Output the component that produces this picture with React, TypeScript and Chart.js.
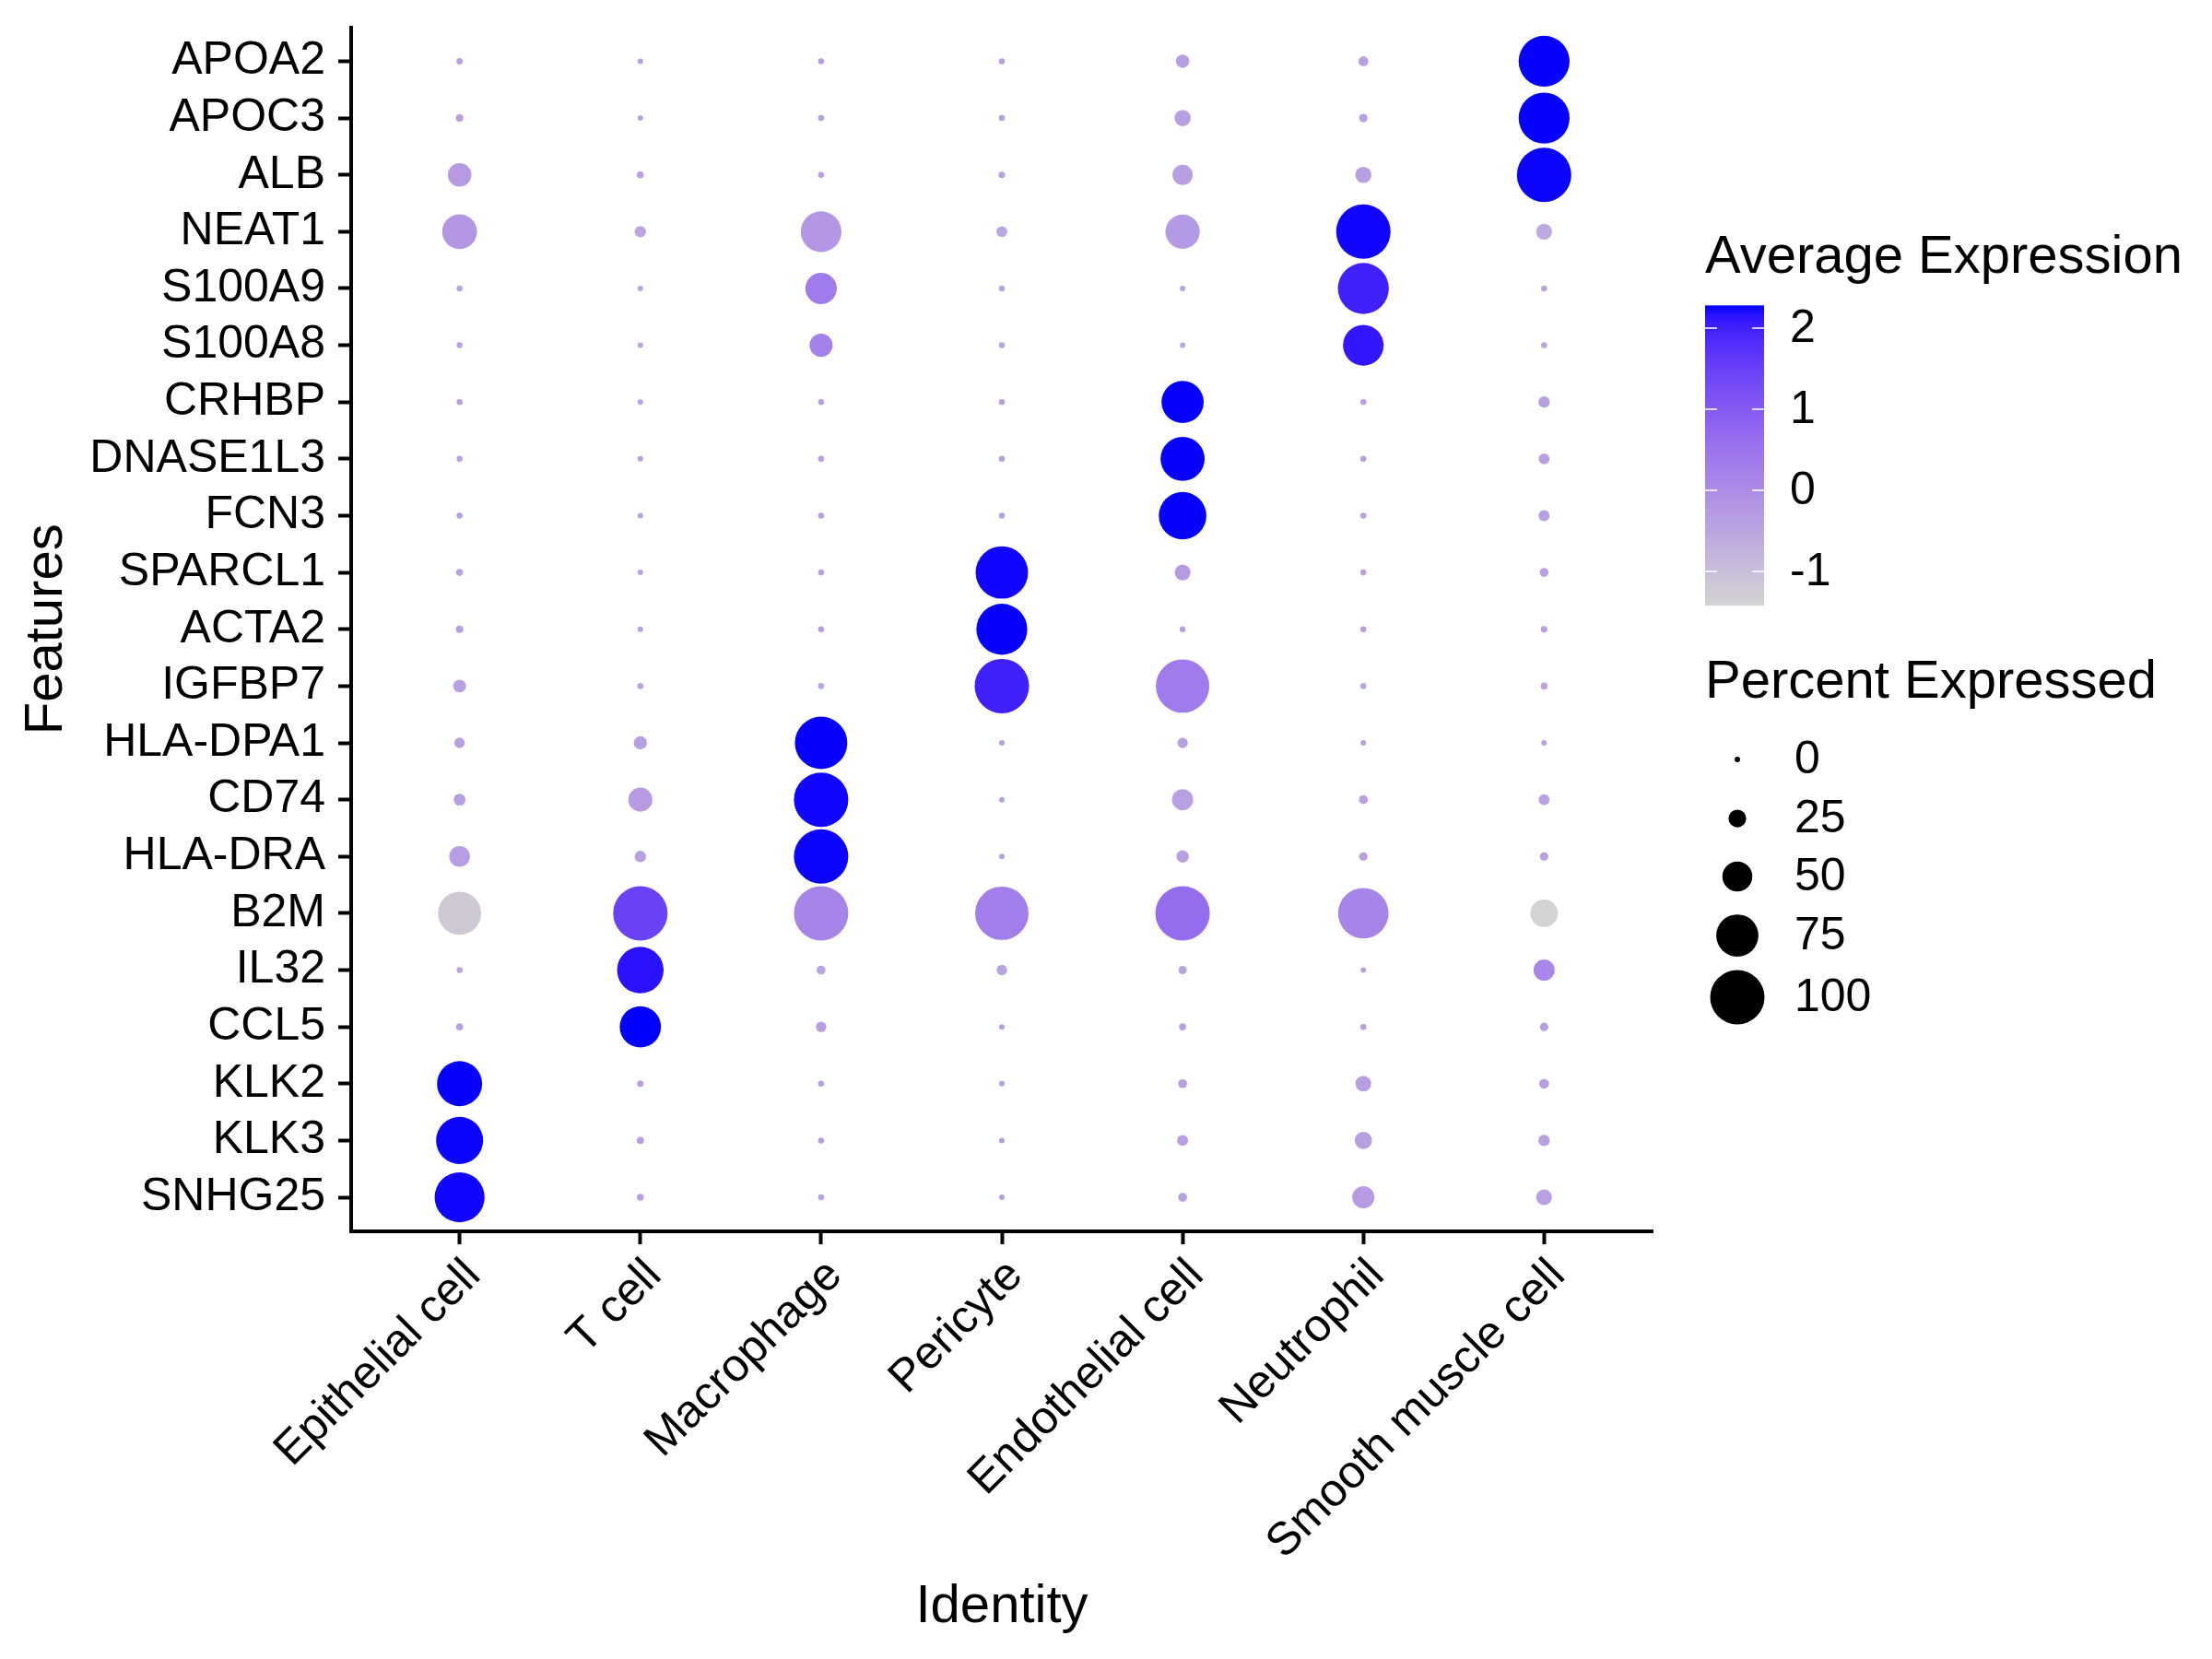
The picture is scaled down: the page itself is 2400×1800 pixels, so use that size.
import React, { useEffect, useRef } from "react";
import { Chart, registerables } from "chart.js";

Chart.register(...registerables);

// ---------- data ----------
const identities = [
  "Epithelial cell",
  "T cell",
  "Macrophage",
  "Pericyte",
  "Endothelial cell",
  "Neutrophil",
  "Smooth muscle cell",
];

const features = [
  "APOA2", "APOC3", "ALB", "NEAT1", "S100A9", "S100A8", "CRHBP", "DNASE1L3",
  "FCN3", "SPARCL1", "ACTA2", "IGFBP7", "HLA-DPA1", "CD74", "HLA-DRA", "B2M",
  "IL32", "CCL5", "KLK2", "KLK3", "SNHG25",
];

// percent expressed per identity (feature order as above)
const pctEpithelial = [2, 4, 37, 60, 1, 1, 1, 1, 1, 3, 4, 15, 10, 13, 31, 77, 1, 3, 81, 85, 91];
const pctTcell = [0, 0, 3, 12, 0, 0, 0, 0, 0, 0, 0, 1, 16, 38, 12, 100, 84, 73, 2, 3, 3];
const pctMacrophage = [1, 1, 1, 72, 53, 36, 1, 1, 1, 1, 1, 1, 96, 100, 100, 100, 7, 10, 1, 1, 1];
const pctPericyte = [1, 1, 2, 11, 1, 1, 1, 1, 1, 96, 93, 100, 0, 0, 0, 98, 10, 0, 0, 0, 0];
const pctEndothelial = [16, 22, 30, 59, 0, 0, 75, 79, 86, 21, 1, 98, 10, 32, 14, 100, 6, 3, 7, 11, 7];
const pctNeutrophil = [9, 6, 22, 100, 93, 72, 1, 1, 1, 1, 1, 1, 0, 7, 6, 92, 0, 1, 21, 24, 34];
const pctSmoothMuscle = [93, 93, 100, 21, 1, 1, 12, 11, 11, 7, 2, 3, 0, 11, 6, 45, 32, 6, 9, 12, 21];

// scaled average expression per identity
const avgEpithelial = [-0.38, -0.38, -0.3, -0.2, -0.46, -0.46, -0.38, -0.38, -0.38, -0.38, -0.36, -0.42, -0.38, -0.38, -0.33, -1.23, -0.45, -0.38, 2.27, 2.26, 2.25];
const avgTcell = [-0.38, -0.38, -0.4, -0.5, -0.46, -0.46, -0.38, -0.38, -0.38, -0.39, -0.38, -0.47, -0.36, -0.3, -0.38, 1.45, 2.15, 2.28, -0.38, -0.38, -0.39];
const avgMacrophage = [-0.38, -0.38, -0.4, -0.22, 0.35, 0.25, -0.38, -0.38, -0.38, -0.39, -0.38, -0.47, 2.27, 2.25, 2.26, 0.15, -0.45, -0.38, -0.38, -0.38, -0.39];
const avgPericyte = [-0.38, -0.38, -0.4, -0.5, -0.46, -0.46, -0.38, -0.38, -0.38, 2.25, 2.27, 2.0, -0.38, -0.39, -0.39, 0.3, -0.45, -0.38, -0.38, -0.38, -0.39];
const avgEndothelial = [-0.38, -0.38, -0.38, -0.25, -0.46, -0.46, 2.27, 2.27, 2.27, -0.3, -0.38, 0.35, -0.38, -0.39, -0.39, 0.65, -0.45, -0.38, -0.38, -0.38, -0.39];
const avgNeutrophil = [-0.38, -0.38, -0.38, 2.25, 2.0, 2.1, -0.38, -0.38, -0.38, -0.39, -0.38, -0.47, -0.38, -0.39, -0.39, 0.15, -0.45, -0.38, -0.38, -0.38, -0.3];
const avgSmoothMuscle = [2.27, 2.27, 2.26, -0.55, -0.46, -0.46, -0.38, -0.38, -0.38, -0.39, -0.38, -0.47, -0.38, -0.39, -0.39, -1.42, 0.1, -0.38, -0.38, -0.38, -0.39];

const colorTicks = [-1, 0, 1, 2];
const sizeBreaks = [0, 25, 50, 75, 100];

const pctByIdentity = [pctEpithelial, pctTcell, pctMacrophage, pctPericyte, pctEndothelial, pctNeutrophil, pctSmoothMuscle];
const avgByIdentity = [avgEpithelial, avgTcell, avgMacrophage, avgPericyte, avgEndothelial, avgNeutrophil, avgSmoothMuscle];

// ---------- colour (CIELAB interpolation lightgrey -> blue) ----------
type RGB = [number, number, number];
const toLin = (c: number) => {
  const v = c / 255;
  return v <= 0.04045 ? v / 12.92 : Math.pow((v + 0.055) / 1.055, 2.4);
};
const fromLin = (c: number) => {
  const v = c <= 0.0031308 ? 12.92 * c : 1.055 * Math.pow(Math.max(c, 0), 1 / 2.4) - 0.055;
  return Math.round(Math.max(0, Math.min(1, v)) * 255);
};
function rgbToLab([r, g, b]: RGB): RGB {
  const R = toLin(r), G = toLin(g), B = toLin(b);
  const X = (0.4124 * R + 0.3576 * G + 0.1805 * B) / 0.95047;
  const Y = 0.2126 * R + 0.7152 * G + 0.0722 * B;
  const Z = (0.0193 * R + 0.1192 * G + 0.9505 * B) / 1.08883;
  const f = (t: number) => (t > 0.008856 ? Math.cbrt(t) : 7.787 * t + 16 / 116);
  const fx = f(X), fy = f(Y), fz = f(Z);
  return [116 * fy - 16, 500 * (fx - fy), 200 * (fy - fz)];
}
function labToRgb([L, a, b]: RGB): RGB {
  const fy = (L + 16) / 116, fx = fy + a / 500, fz = fy - b / 200;
  const inv = (t: number) => (t * t * t > 0.008856 ? t * t * t : (t - 16 / 116) / 7.787);
  const X = 0.95047 * inv(fx), Y = inv(fy), Z = 1.08883 * inv(fz);
  const R = 3.2406 * X - 1.5372 * Y - 0.4986 * Z;
  const G = -0.9689 * X + 1.8758 * Y + 0.0415 * Z;
  const B = 0.0557 * X - 0.204 * Y + 1.057 * Z;
  return [fromLin(R), fromLin(G), fromLin(B)];
}
const LOW = rgbToLab([211, 211, 211]);
const HIGH = rgbToLab([0, 0, 255]);
const allAvg = avgByIdentity.flat();
const vMin = Math.min(...allAvg);
const vMax = Math.max(...allAvg);
function colorFor(v: number): string {
  const t = Math.max(0, Math.min(1, (v - vMin) / (vMax - vMin)));
  const lab: RGB = [
    LOW[0] + (HIGH[0] - LOW[0]) * t,
    LOW[1] + (HIGH[1] - LOW[1]) * t,
    LOW[2] + (HIGH[2] - LOW[2]) * t,
  ];
  const [r, g, b] = labToRgb(lab);
  return `rgb(${r},${g},${b})`;
}
const radiusFor = (pct: number) => (6 + 0.53 * pct) / 2;

const FONT = "'Liberation Sans', Arial, sans-serif";

// ---------- legend plugin ----------
const legendPlugin = {
  id: "dotLegends",
  afterDraw(chart: any) {
    const ctx: CanvasRenderingContext2D = chart.ctx;
    ctx.save();
    ctx.fillStyle = "#000";
    ctx.textAlign = "left";
    ctx.textBaseline = "alphabetic";
    ctx.font = `58px ${FONT}`;
    ctx.fillText("Average Expression", 1850, 296);

    // colour bar
    const unit = 88;
    const zeroY = 532;
    const yOf = (v: number) => zeroY - v * unit;
    const top = yOf(vMax);
    const bot = yOf(vMin);
    const barX = 1850, barW = 64;
    const grad = ctx.createLinearGradient(0, bot, 0, top);
    const n = 40;
    for (let i = 0; i <= n; i++) {
      grad.addColorStop(i / n, colorFor(vMin + ((vMax - vMin) * i) / n));
    }
    ctx.fillStyle = grad;
    ctx.fillRect(barX, top, barW, bot - top);
    ctx.strokeStyle = "#fff";
    ctx.lineWidth = 1.5;
    ctx.font = `50px ${FONT}`;
    ctx.fillStyle = "#000";
    ctx.textBaseline = "middle";
    colorTicks.forEach((v) => {
      const y = yOf(v);
      ctx.beginPath();
      ctx.moveTo(barX, y);
      ctx.lineTo(barX + 13, y);
      ctx.moveTo(barX + barW - 13, y);
      ctx.lineTo(barX + barW, y);
      ctx.stroke();
      ctx.fillText(String(v), 1942, y + 1);
    });

    // size legend
    ctx.textBaseline = "alphabetic";
    ctx.font = `58px ${FONT}`;
    ctx.fillText("Percent Expressed", 1850, 757);
    const keyY = [824, 888, 951, 1015, 1082];
    ctx.font = `50px ${FONT}`;
    ctx.textBaseline = "middle";
    sizeBreaks.forEach((p, i) => {
      ctx.beginPath();
      ctx.arc(1885, keyY[i], radiusFor(p), 0, Math.PI * 2);
      ctx.fillStyle = "#000";
      ctx.fill();
      ctx.fillText(String(p), 1947, keyY[i] + 1);
    });
    ctx.restore();
  },
};

export default function App() {
  const ref = useRef<HTMLCanvasElement | null>(null);

  useEffect(() => {
    document.body.style.margin = "0";
    const points: { x: number; y: number; pct: number; avg: number }[] = [];
    identities.forEach((_, ci) => {
      features.forEach((_, fi) => {
        points.push({ x: ci, y: fi, pct: pctByIdentity[ci][fi], avg: avgByIdentity[ci][fi] });
      });
    });

    const tickFont = { family: FONT, size: 50 };
    const titleFont = { family: FONT, size: 58 };
    const zeroPad = (s: any) => {
      s.paddingTop = 0;
      s.paddingBottom = 0;
      s.paddingLeft = 0;
      s.paddingRight = 0;
    };

    const chart = new Chart(ref.current as HTMLCanvasElement, {
      type: "scatter",
      data: {
        datasets: [
          {
            data: points as any,
            pointRadius: (c: any) => radiusFor(c.raw.pct),
            pointHoverRadius: (c: any) => radiusFor(c.raw.pct),
            pointBackgroundColor: (c: any) => colorFor(c.raw.avg),
            pointBorderColor: (c: any) => colorFor(c.raw.avg),
            pointBorderWidth: 0,
          },
        ],
      },
      options: {
        animation: false,
        responsive: true,
        maintainAspectRatio: false,
        events: [],
        layout: { padding: { left: 0, top: 29, right: 607, bottom: 0 } },
        plugins: { legend: { display: false }, tooltip: { enabled: false } },
        scales: {
          x: {
            type: "linear",
            min: -0.6,
            max: 6.6,
            afterBuildTicks: (s: any) => {
              s.ticks = identities.map((_, i) => ({ value: i }));
            },
            afterFit: (s: any) => {
              s.height = 464;
              zeroPad(s);
            },
            ticks: {
              autoSkip: false,
              maxRotation: 45,
              minRotation: 45,
              padding: 5,
              labelOffset: 15,
              color: "#000",
              font: tickFont,
              callback: (v: any) => identities[Math.round(Number(v))] ?? "",
            },
            grid: {
              drawOnChartArea: false,
              drawTicks: true,
              tickLength: 14,
              tickWidth: 4,
              tickColor: "#000",
            },
            border: { display: true, color: "#000", width: 4 },
            title: {
              display: true,
              text: "Identity",
              color: "#000",
              font: titleFont,
              padding: { top: 0, bottom: 21 },
            },
          },
          y: {
            type: "linear",
            reverse: true,
            min: -0.6,
            max: 20.6,
            afterBuildTicks: (s: any) => {
              s.ticks = features.map((_, i) => ({ value: i }));
            },
            afterFit: (s: any) => {
              s.width = 381;
              zeroPad(s);
            },
            ticks: {
              autoSkip: false,
              padding: 14,
              color: "#000",
              font: tickFont,
              callback: (v: any) => features[Math.round(Number(v))] ?? "",
            },
            grid: {
              drawOnChartArea: false,
              drawTicks: true,
              tickLength: 14,
              tickWidth: 4,
              tickColor: "#000",
            },
            border: { display: true, color: "#000", width: 4 },
            title: {
              display: true,
              text: "Features",
              color: "#000",
              font: titleFont,
              padding: { top: 16, bottom: 0 },
            },
          },
        },
      },
      plugins: [legendPlugin],
    });
    return () => chart.destroy();
  }, []);

  return (
    <div style={{ position: "absolute", left: 0, top: 0, width: 2400, height: 1800, background: "#fff" }}>
      <canvas ref={ref} />
    </div>
  );
}
